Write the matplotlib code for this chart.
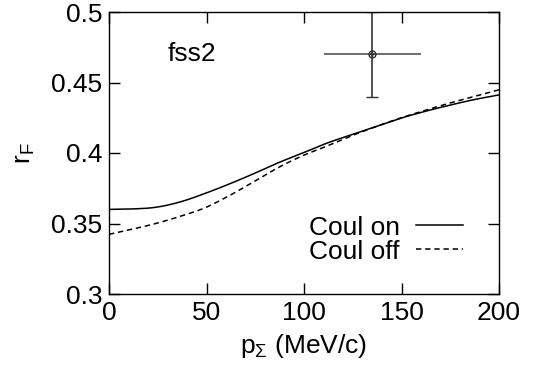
import numpy as np
import matplotlib
matplotlib.use('Agg')
import matplotlib.pyplot as plt

plt.rcParams['font.family'] = ['Liberation Sans', 'DejaVu Sans']
plt.rcParams['mathtext.fontset'] = 'custom'
plt.rcParams['mathtext.rm'] = 'Liberation Sans'
plt.rcParams['mathtext.it'] = 'Liberation Sans'

# values
p = [0, 12, 24, 37, 49, 62, 75, 87, 100, 111, 124, 137, 149, 162, 175, 187, 200]
coul_on = [0.3600, 0.3603, 0.3615, 0.3655, 0.3712, 0.3782, 0.3858, 0.3932, 0.4003, 0.4066,
           0.4128, 0.4188, 0.4244, 0.4295, 0.4340, 0.4378, 0.4412]
coul_off = [0.3423, 0.3460, 0.3500, 0.3553, 0.3610, 0.3700, 0.3802, 0.3898, 0.3985, 0.4045,
            0.4120, 0.4188, 0.4246, 0.4302, 0.4355, 0.4400, 0.4448]

# experimental point
exp_p = [135]
exp_r = [0.470]
exp_dp = [25]
exp_dr = [0.030]

fig = plt.figure(figsize=(5.35, 3.75), dpi=100)
ax = fig.add_axes([109/535, 1 - 294/375, 390/535, 282/375])

ps = np.linspace(0, 200, 401)

def smooth(xs, ys):
    # cubic Hermite through the read points
    xs = np.asarray(xs, float)
    ys = np.asarray(ys, float)
    m = np.gradient(ys, xs)
    out = np.empty_like(ps)
    for k, x in enumerate(ps):
        i = min(np.searchsorted(xs, x, side='right') - 1, len(xs) - 2)
        h = xs[i + 1] - xs[i]
        t = (x - xs[i]) / h
        h00 = 2*t**3 - 3*t**2 + 1
        h10 = t**3 - 2*t**2 + t
        h01 = -2*t**3 + 3*t**2
        h11 = t**3 - t**2
        out[k] = h00*ys[i] + h10*h*m[i] + h01*ys[i+1] + h11*h*m[i+1]
    return out

ax.plot(ps, smooth(p, coul_on), 'k-', lw=1.1, label='Coul on')
ax.plot(ps, smooth(p, coul_off), 'k--', lw=1.1, dashes=(3.5, 2.5), label='Coul off')

ax.errorbar(exp_p, exp_r, xerr=exp_dp, fmt='none', ecolor='#555555', lw=1.2, capsize=0)
ax.errorbar(exp_p, exp_r, yerr=exp_dr, fmt='none', ecolor='#333333', lw=1.2, capsize=4)
ax.plot(exp_p, exp_r, marker='o', ms=5, mfc='none', mec='#333333', mew=1.0)
ax.plot(exp_p, exp_r, marker='+', ms=5, color='#333333', mew=1.0)

ax.text(30, 0.47, 'fss2', fontsize=19, ha='left', va='center')

ax.set_xlim(0, 200)
ax.set_ylim(0.3, 0.5)
ax.set_xticks([0, 50, 100, 150, 200])
ax.set_yticks([0.3, 0.35, 0.4, 0.45, 0.5])
ax.set_yticklabels(['0.3', '0.35', '0.4', '0.45', '0.5'])
ax.tick_params(direction='in', length=8, width=1, top=True, right=True, labelsize=19, pad=5)
for s in ax.spines.values():
    s.set_linewidth(1.0)

ax.set_xlabel(r'p$_\Sigma$ (MeV/c)', fontsize=19, labelpad=5)
ax.set_ylabel(r'r$_\mathrm{F}$', fontsize=19, labelpad=10)

ax.legend(loc='lower right', bbox_to_anchor=(0.935, 0.07), frameon=False, fontsize=19,
          markerfirst=False, handlelength=1.8, handletextpad=0.6, labelspacing=0.0,
          borderaxespad=0)

fig.savefig('out.png', dpi=100)
